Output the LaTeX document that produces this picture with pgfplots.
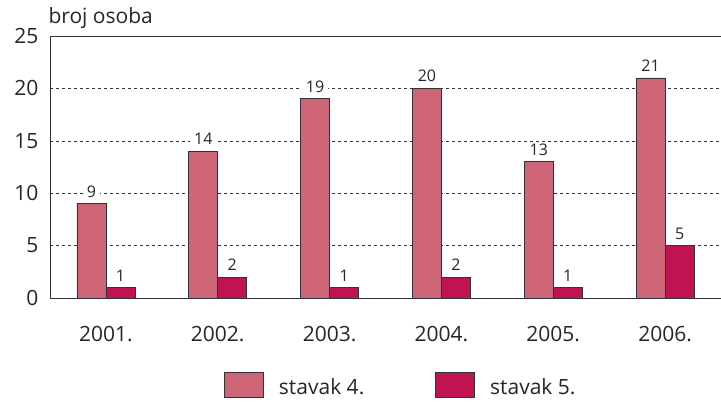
\documentclass[border=0pt]{standalone}
\usepackage{pgfplots}
\pgfplotsset{compat=1.18}
\usepackage{fontspec}
\setmainfont{Open Sans}
\definecolor{stavakA}{HTML}{CD6577}
\definecolor{stavakB}{HTML}{BF1352}
\definecolor{edge}{HTML}{333333}
\begin{document}
\begin{tikzpicture}
\begin{axis}[
    scale only axis,
    width=671pt, height=262pt,
    ybar=0pt, bar width=29pt,
    xmin=-0.5, xmax=5.5,
    ymin=0, ymax=25,
    xtick={0,1,2,3,4,5},
    xticklabels={2001.,2002.,2003.,2004.,2005.,2006.},
    ytick={0,5,10,15,20,25},
    axis x line=box, axis y line=left,
    axis line style={edge, line width=0.8pt, -},
    major tick length=0pt,
    ymajorgrids,
    grid style={dashed, edge, line width=0.5pt},
    /pgf/number format/assume math mode=true,
    tick label style={font=\fontsize{21}{25}\selectfont, text=black!85},
    xticklabel style={yshift=-25pt},
    yticklabel style={xshift=-8pt},
    ylabel={broj osoba},
    every axis y label/.style={at={(rel axis cs:0,1)}, anchor=base west, xshift=-5pt, yshift=13pt, font=\fontsize{21}{25}\selectfont, text=black!85},
    nodes near coords,
    every node near coord/.append style={font=\fontsize{16}{19}\selectfont, text=black!85, fill=white, inner xsep=4pt, inner ysep=1pt, yshift=5pt},
    legend columns=2,
    legend style={at={(0.2548,-0.333)}, anchor=west, draw=none,
        font=\fontsize{21}{25}\selectfont, text=black!85,
        /tikz/every even column/.append style={column sep=69pt},
        /tikz/every odd column/.append style={column sep=13pt}},
]
\addplot[fill=stavakA, draw=edge, line width=0.8pt] coordinates {(0,9) (1,14) (2,19) (3,20) (4,13) (5,21)};
\addplot[fill=stavakB, draw=edge, line width=0.8pt] coordinates {(0,1) (1,2) (2,1) (3,2) (4,1) (5,5)};
\legend{stavak 4., stavak 5.}
\pgfplotsset{legend image code/.code={\draw[#1, draw=edge, line width=0.8pt] (0pt,-10pt) rectangle (39pt,15pt);}}
\end{axis}
\pgfresetboundingbox
\path[use as bounding box] (current axis.south west) ++(-50pt,-104pt) rectangle ++(721pt,402pt);
\end{tikzpicture}
\end{document}
